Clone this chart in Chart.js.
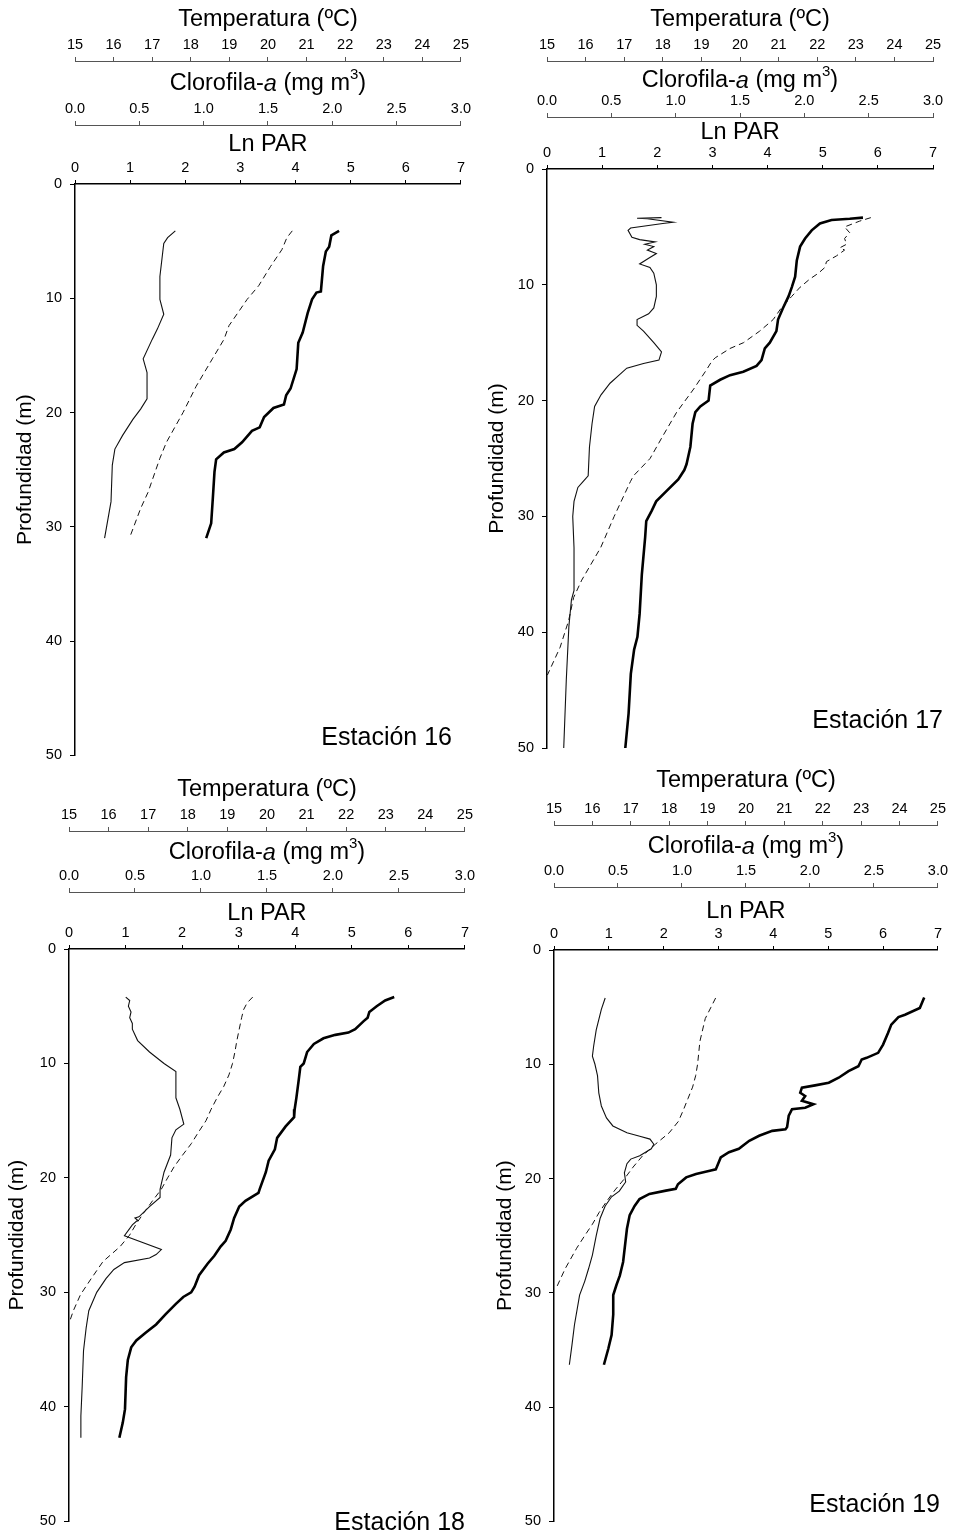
<!DOCTYPE html>
<html>
<head>
<meta charset="utf-8">
<script src="https://cdn.jsdelivr.net/npm/chart.js@4.4.1/dist/chart.umd.min.js"></script>
<style>
  html, body { margin: 0; padding: 0; background: #fff; }
  #wrap { position: relative; width: 953px; height: 1538px; overflow: hidden; background: #fff; }
  #wrap canvas { position: absolute; }
</style>
</head>
<body>
<div id="wrap"></div>
<script>
// tick values of the four axes
var tempTicks = [15, 16, 17, 18, 19, 20, 21, 22, 23, 24, 25];
var chlTicks = [0, 0.5, 1, 1.5, 2, 2.5, 3];
var parTicks = [0, 1, 2, 3, 4, 5, 6, 7];
var depthTicks = [0, 10, 20, 30, 40, 50];

// Estacion 16
var chl16Depth = [4.1, 4.7, 5.2, 8.1, 10.1, 11.4, 12.7, 13.6, 15.3, 16.5, 18.8, 19.7, 20.6, 22.0, 23.2, 24.6, 27.8, 31.0];
var chl16 = [0.78, 0.72, 0.69, 0.66, 0.66, 0.69, 0.64, 0.60, 0.53, 0.56, 0.56, 0.51, 0.45, 0.37, 0.31, 0.29, 0.28, 0.23];
var temp16Depth = [4.1, 4.7, 5.75, 7.2, 8.9, 10.1, 12.4, 13.6, 15.3, 17.7, 20.0, 22.6, 24.0, 27.0, 28.4, 31.0];
var temp16 = [20.63, 20.49, 20.36, 20.07, 19.76, 19.46, 18.99, 18.86, 18.56, 18.14, 17.80, 17.37, 17.20, 16.89, 16.70, 16.41];
var par16Depth = [4.1, 4.5, 5.5, 5.9, 7.2, 9.4, 9.5, 10.1, 11.3, 13.0, 13.9, 16.2, 17.9, 18.5, 19.3, 19.6, 20.4, 21.3, 21.6, 22.6, 23.2, 23.5, 24.1, 25.2, 27.5, 29.7, 31.0];
var par16 = [4.79, 4.65, 4.61, 4.55, 4.50, 4.46, 4.38, 4.30, 4.22, 4.13, 4.05, 4.02, 3.91, 3.83, 3.79, 3.60, 3.43, 3.35, 3.21, 3.03, 2.89, 2.70, 2.56, 2.53, 2.50, 2.47, 2.38];

// Estacion 17
var chl17Depth = [4.2, 4.25, 4.3, 4.6, 4.7, 5.1, 5.3, 5.9, 6.1, 6.3, 6.5, 6.7, 7.0, 7.3, 7.7, 8.2, 8.5, 9.0, 10.0, 11.0, 12.0, 12.5, 13.0, 13.5, 14.0, 15.0, 15.8, 16.5, 16.8, 17.2, 17.8, 18.5, 19.5, 20.5, 22.0, 24.0, 26.5, 27.0, 27.5, 28.7, 30.0, 32.7, 36.4, 37.2, 39.5, 44.1, 50.0];
var chl17 = [0.89, 0.70, 0.78, 0.98, 0.90, 0.65, 0.63, 0.66, 0.72, 0.84, 0.76, 0.83, 0.78, 0.85, 0.79, 0.72, 0.80, 0.83, 0.85, 0.85, 0.83, 0.79, 0.70, 0.70, 0.75, 0.83, 0.89, 0.87, 0.75, 0.62, 0.56, 0.49, 0.42, 0.37, 0.35, 0.33, 0.32, 0.28, 0.24, 0.21, 0.20, 0.21, 0.21, 0.19, 0.17, 0.15, 0.13];
var temp17Depth = [4.2, 4.5, 5.0, 5.5, 6.0, 6.5, 6.8, 7.0, 7.5, 8.0, 8.5, 9.0, 9.5, 10.2, 11.0, 12.0, 13.0, 14.0, 15.0, 15.5, 16.3, 16.6, 17.3, 19.0, 21.0, 23.0, 25.0, 26.5, 27.0, 30.0, 32.7, 35.5, 37.0, 39.0, 41.3, 43.7];
var temp17 = [23.39, 23.10, 22.71, 22.84, 22.71, 22.76, 22.59, 22.71, 22.50, 22.24, 22.20, 22.03, 21.81, 21.56, 21.34, 21.07, 20.86, 20.51, 20.09, 19.74, 19.36, 19.27, 19.14, 18.80, 18.36, 18.01, 17.67, 17.24, 17.16, 16.74, 16.39, 15.90, 15.69, 15.56, 15.34, 15.01];
var par17Depth = [4.2, 4.3, 4.4, 4.7, 5.3, 6.0, 6.7, 7.9, 9.3, 10.2, 11.0, 12.0, 13.0, 14.0, 15.0, 15.5, 16.5, 17.0, 17.5, 17.8, 18.2, 18.7, 20.0, 20.5, 21.0, 22.0, 24.0, 25.5, 26.0, 26.8, 27.8, 28.7, 29.5, 30.4, 31.8, 35.0, 38.4, 40.4, 41.5, 43.6, 47.0, 50.0];
var par17 = [5.73, 5.49, 5.16, 4.95, 4.80, 4.68, 4.59, 4.53, 4.50, 4.44, 4.38, 4.28, 4.19, 4.16, 4.04, 3.95, 3.89, 3.80, 3.56, 3.32, 3.14, 2.96, 2.93, 2.78, 2.69, 2.64, 2.60, 2.53, 2.49, 2.38, 2.17, 1.98, 1.90, 1.80, 1.78, 1.72, 1.68, 1.64, 1.58, 1.52, 1.48, 1.42];

// Estacion 18
var chl18Depth = [4.2, 4.5, 5.0, 5.5, 6.0, 6.5, 7.0, 8.0, 9.0, 10.0, 10.7, 11.5, 13.0, 14.0, 15.3, 15.8, 16.5, 18.0, 19.5, 21.0, 21.7, 22.5, 23.4, 23.5, 23.7, 24.1, 25.05, 26.26, 26.7, 27.0, 27.4, 28.0, 28.8, 30.0, 31.6, 33.1, 35.1, 38.2, 40.8, 42.7];
var chl18 = [0.43, 0.46, 0.45, 0.47, 0.46, 0.48, 0.48, 0.52, 0.61, 0.72, 0.81, 0.81, 0.81, 0.84, 0.87, 0.81, 0.78, 0.77, 0.72, 0.69, 0.69, 0.61, 0.53, 0.50, 0.52, 0.48, 0.42, 0.70, 0.66, 0.61, 0.42, 0.34, 0.28, 0.21, 0.15, 0.13, 0.11, 0.10, 0.09, 0.09];
var temp18Depth = [4.2, 4.7, 5.3, 6.0, 7.0, 8.0, 9.0, 10.0, 11.0, 12.0, 13.0, 14.0, 15.0, 16.0, 17.0, 18.0, 19.0, 20.0, 21.0, 22.0, 23.0, 24.0, 25.0, 26.0, 27.3, 28.8, 30.2, 31.6, 32.6];
var temp18 = [19.64, 19.50, 19.41, 19.36, 19.30, 19.24, 19.19, 19.13, 19.04, 18.91, 18.74, 18.59, 18.46, 18.27, 18.09, 17.87, 17.66, 17.49, 17.33, 17.11, 16.90, 16.70, 16.53, 16.29, 15.86, 15.56, 15.29, 15.11, 15.01];
var par18Depth = [4.2, 4.5, 5.0, 5.5, 6.0, 6.3, 7.0, 7.3, 7.5, 7.8, 8.3, 9.0, 10.0, 10.3, 11.5, 13.0, 14.0, 14.7, 15.5, 16.5, 17.5, 18.5, 19.5, 21.0, 21.3, 22.0, 22.5, 23.5, 24.5, 25.5, 26.0, 26.8, 27.5, 28.5, 29.5, 30.0, 30.4, 31.0, 31.9, 32.8, 33.5, 34.2, 34.8, 35.9, 37.4, 40.2, 41.4, 42.7];
var par18 = [5.75, 5.59, 5.44, 5.31, 5.28, 5.21, 5.06, 4.94, 4.71, 4.50, 4.33, 4.21, 4.15, 4.09, 4.06, 4.02, 3.99, 3.98, 3.83, 3.68, 3.64, 3.53, 3.48, 3.37, 3.35, 3.12, 3.01, 2.92, 2.86, 2.77, 2.68, 2.57, 2.45, 2.30, 2.22, 2.16, 2.02, 1.89, 1.71, 1.54, 1.36, 1.19, 1.10, 1.04, 1.01, 0.99, 0.95, 0.89];

// Estacion 19
var chl19Depth = [4.2, 5.2, 7.0, 8.4, 9.3, 10.0, 11.0, 12.5, 13.65, 14.7, 15.4, 16.0, 16.3, 16.55, 17.0, 17.4, 18.0, 18.3, 18.7, 19.5, 20.3, 21.1, 21.6, 22.4, 23.5, 25.0, 26.7, 27.9, 29.0, 30.2, 32.8, 34.6, 36.3];
var chl19 = [0.40, 0.37, 0.33, 0.31, 0.30, 0.32, 0.34, 0.35, 0.37, 0.41, 0.46, 0.57, 0.67, 0.75, 0.78, 0.76, 0.67, 0.60, 0.57, 0.55, 0.56, 0.51, 0.45, 0.40, 0.36, 0.33, 0.30, 0.27, 0.24, 0.20, 0.16, 0.14, 0.12];
var temp19Depth = [4.2, 5.0, 6.0, 7.0, 8.0, 9.0, 10.0, 11.0, 12.0, 13.0, 14.0, 15.0, 16.0, 17.0, 18.0, 19.0, 20.0, 21.0, 22.0, 23.0, 24.0, 25.0, 26.1, 27.9, 29.5, 29.7];
var temp19 = [19.21, 19.09, 18.94, 18.87, 18.80, 18.77, 18.74, 18.69, 18.61, 18.49, 18.37, 18.24, 18.00, 17.64, 17.31, 17.06, 16.84, 16.59, 16.37, 16.17, 16.00, 15.80, 15.59, 15.29, 15.07, 15.03];
var par19Depth = [4.15, 5.08, 5.66, 5.87, 6.53, 7.26, 8.28, 9.0, 9.44, 9.58, 10.17, 10.6, 11.18, 11.62, 11.85, 12.05, 12.49, 12.78, 13.2, 13.5, 13.8, 13.94, 14.5, 15.5, 15.7, 15.83, 16.26, 16.7, 17.4, 17.7, 18.15, 19.2, 19.3, 19.6, 19.9, 20.5, 20.9, 21.06, 21.35, 21.8, 22.4, 23.2, 24.4, 27.3, 28.5, 29.3, 30.2, 31.9, 33.7, 34.9, 36.3];
var par19 = [6.75, 6.67, 6.40, 6.28, 6.15, 6.09, 6.00, 5.91, 5.70, 5.61, 5.55, 5.37, 5.19, 5.01, 4.76, 4.52, 4.49, 4.58, 4.52, 4.73, 4.58, 4.34, 4.28, 4.25, 4.22, 3.98, 3.74, 3.56, 3.37, 3.19, 3.04, 2.95, 2.86, 2.59, 2.41, 2.26, 2.22, 2.04, 1.74, 1.56, 1.47, 1.38, 1.33, 1.26, 1.20, 1.14, 1.08, 1.08, 1.05, 0.99, 0.91];

var FONT = "'Liberation Sans', Arial, Helvetica, sans-serif";
Chart.defaults.font.family = FONT;
Chart.defaults.color = '#000';

// page layout of each panel (absolute pixels in the page)
var panels = [
  { label: 'Estación 16', box: [0, 0, 476, 772], area: [75, 184, 462, 758], tempLine: 61, chlLine: 125,
    titles: [20, 84, 145], yTitleX: 25, labelAt: [452, 745],
    chl: [chl16Depth, chl16], temp: [temp16Depth, temp16], par: [par16Depth, par16] },
  { label: 'Estación 17', box: [476, 0, 477, 765], area: [547, 169, 933, 748], tempLine: 61, chlLine: 117,
    titles: [20, 81, 133], yTitleX: 497, labelAt: [943, 728],
    chl: [chl17Depth, chl17], temp: [temp17Depth, temp17], par: [par17Depth, par17] },
  { label: 'Estación 18', box: [0, 772, 480, 766], area: [69, 949, 467, 1528], tempLine: 831, chlLine: 892,
    titles: [790, 853, 914], yTitleX: 17, labelAt: [465, 1530],
    chl: [chl18Depth, chl18], temp: [temp18Depth, temp18], par: [par18Depth, par18] },
  { label: 'Estación 19', box: [480, 765, 473, 773], area: [554, 950, 940, 1525], tempLine: 825, chlLine: 887,
    titles: [781, 847, 912], yTitleX: 505, labelAt: [940, 1512],
    chl: [chl19Depth, chl19], temp: [temp19Depth, temp19], par: [par19Depth, par19] }
];

function pts(series) {
  return series[0].map(function (d, i) { return { x: series[1][i], y: d }; });
}

function topAxis(ticks, weight, height, titleOffset, text, fmt, color, width) {
  return {
    type: 'linear', position: 'top', weight: weight,
    min: ticks[0], max: ticks[ticks.length - 1],
    afterBuildTicks: function (s) { s.ticks = ticks.map(function (v) { return { value: v }; }); },
    afterFit: function (s) { s.height = height; },
    grid: { drawOnChartArea: false, drawTicks: true, tickLength: 4, color: color, lineWidth: 1 },
    border: { display: true, color: color, width: width },
    ticks: { font: { size: 14.5, lineHeight: 1 }, padding: 5, maxRotation: 0, autoSkip: false, callback: fmt },
    title: { display: text !== null, text: text || '', font: { size: 23.5, lineHeight: 1.2 },
             padding: { top: titleOffset - 14.1, bottom: 0 } }
  };
}

// Clorofila title (italic a, superscript 3) and station name
var annotate = {
  id: 'annotate',
  afterDraw: function (chart, args, o) {
    var ctx = chart.ctx;
    var s = chart.scales.chl;
    var parts = [
      { t: 'Clorofila-', f: '23.5px ' + FONT, dy: 0 },
      { t: 'a', f: 'italic 23.5px ' + FONT, dy: 0 },
      { t: ' (mg m', f: '23.5px ' + FONT, dy: 0 },
      { t: '3', f: '15px ' + FONT, dy: -9 },
      { t: ')', f: '23.5px ' + FONT, dy: 0 }
    ];
    ctx.save();
    ctx.fillStyle = '#000';
    ctx.textBaseline = 'middle';
    ctx.textAlign = 'left';
    var total = 0;
    parts.forEach(function (p) { ctx.font = p.f; p.w = ctx.measureText(p.t).width; total += p.w; });
    var x = (s.left + s.right) / 2 - total / 2;
    parts.forEach(function (p) {
      ctx.font = p.f;
      ctx.fillText(p.t, x, o.chlTitleY + p.dy);
      x += p.w;
    });
    ctx.font = '25px ' + FONT;
    ctx.textAlign = 'right';
    ctx.textBaseline = 'alphabetic';
    ctx.fillText(o.label, o.labelX, o.labelY);
    ctx.restore();
  }
};

var wrap = document.getElementById('wrap');

panels.forEach(function (p) {
  var bx = p.box[0], by = p.box[1], bw = p.box[2], bh = p.box[3];
  var L = p.area[0], T = p.area[1], R = p.area[2], B = p.area[3];
  var cv = document.createElement('canvas');
  cv.width = bw; cv.height = bh;
  cv.style.left = bx + 'px'; cv.style.top = by + 'px';
  cv.style.width = bw + 'px'; cv.style.height = bh + 'px';
  wrap.appendChild(cv);

  new Chart(cv.getContext('2d'), {
    type: 'scatter',
    data: {
      datasets: [
        { label: 'Clorofila-a', data: pts(p.chl), xAxisID: 'chl', yAxisID: 'y',
          showLine: true, pointRadius: 0, borderColor: '#111', borderWidth: 1.1, tension: 0, fill: false },
        { label: 'Temperatura', data: pts(p.temp), xAxisID: 'temp', yAxisID: 'y',
          showLine: true, pointRadius: 0, borderColor: '#111', borderWidth: 1, borderDash: [6, 4], tension: 0, fill: false },
        { label: 'Ln PAR', data: pts(p.par), xAxisID: 'par', yAxisID: 'y',
          showLine: true, pointRadius: 0, borderColor: '#000', borderWidth: 2.6, tension: 0, fill: false }
      ]
    },
    options: {
      responsive: false,
      animation: false,
      devicePixelRatio: 1,
      layout: { padding: { left: 0, top: 0, right: bx + bw - R, bottom: by + bh - B } },
      plugins: {
        legend: { display: false },
        tooltip: { enabled: false },
        annotate: { chlTitleY: p.titles[1] - by, label: p.label, labelX: p.labelAt[0] - bx, labelY: p.labelAt[1] - by }
      },
      scales: {
        temp: topAxis(tempTicks, 3, p.tempLine - by, p.titles[0] - by, 'Temperatura (ºC)',
                      function (v) { return String(v); }, '#555', 1),
        chl: topAxis(chlTicks, 2, p.chlLine - p.tempLine, 0, null,
                     function (v) { return v.toFixed(1); }, '#555', 1),
        par: topAxis(parTicks, 1, T - p.chlLine, p.titles[2] - p.chlLine, 'Ln PAR',
                     function (v) { return String(v); }, '#000', 1.5),
        y: {
          type: 'linear', position: 'left', reverse: true, min: 0, max: 50,
          afterBuildTicks: function (s) { s.ticks = depthTicks.map(function (v) { return { value: v }; }); },
          afterFit: function (s) { s.width = L - bx; },
          grid: { drawOnChartArea: false, drawTicks: true, tickLength: 5, color: '#000' },
          border: { display: true, color: '#000', width: 1.5 },
          ticks: { font: { size: 14.5 }, padding: 8 },
          title: { display: true, text: 'Profundidad (m)', font: { size: 21, lineHeight: 1.2 },
                   padding: { top: p.yTitleX - bx - 12.6, bottom: 0 } }
        }
      }
    },
    plugins: [annotate]
  });
});
</script>
</body>
</html>
